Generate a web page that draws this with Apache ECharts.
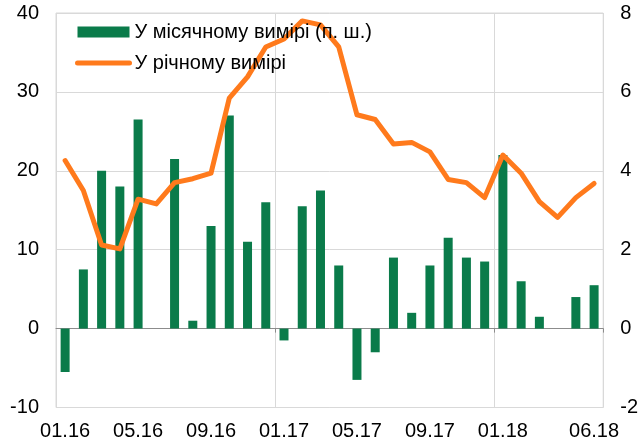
<!DOCTYPE html>
<html>
<head>
<meta charset="utf-8">
<script src="https://cdn.jsdelivr.net/npm/echarts@6/dist/echarts.min.js"></script>
<style>
html,body{margin:0;padding:0;background:#fff;}
#chart{width:641px;height:445px;}
</style>
</head>
<body>
<div id="chart"></div>
<script>
const categories = ['01.16','02.16','03.16','04.16','05.16','06.16','07.16','08.16','09.16','10.16','11.16','12.16',
  '01.17','02.17','03.17','04.17','05.17','06.17','07.17','08.17','09.17','10.17','11.17','12.17',
  '01.18','02.18','03.18','04.18','05.18','06.18'];
const labelIndices = [0,4,8,12,16,20,24,29];
const monthly = [-1.1,1.5,4.0,3.6,5.3,0,4.3,0.2,2.6,5.4,2.2,3.2,
  -0.3,3.1,3.5,1.6,-1.3,-0.6,1.8,0.4,1.6,2.3,1.8,1.7,
  4.4,1.2,0.3,0,0.8,1.1];
const annual = [21.3,17.5,10.6,10.1,16.4,15.8,18.5,19.0,19.7,29.2,31.9,35.7,
  36.7,39.0,38.5,35.7,27.1,26.5,23.4,23.6,22.4,18.9,18.5,16.6,
  22.0,19.7,16.1,14.1,16.6,18.4];
const leftTicks = {min:-10,max:40,interval:10};
const rightTicks = {min:-2,max:8,interval:2};
const seriesNames = ['У місячному вимірі (п. ш.)','У річному вимірі'];

const GREEN = '#0a7b4a', ORANGE = '#ff7a1c';
const FONT = 'Liberation Sans, Arial, sans-serif';
const FS = 20;
const chart = echarts.init(document.getElementById('chart'), null, {renderer:'canvas'});
chart.setOption({
  animation:false,
  textStyle:{fontFamily:FONT},
  grid:{left:56,right:34,top:13,bottom:37.5,show:true,borderColor:'#d9d9d9',borderWidth:1},
  legend:{
    orient:'vertical', left:75, top:22, padding:0, itemWidth:52, itemHeight:11, itemGap:11,
    textStyle:{fontSize:FS,color:'#000',fontFamily:FONT},
    data:[{name:seriesNames[0],icon:'rect'},
          {name:seriesNames[1],itemStyle:{opacity:0},lineStyle:{width:5,cap:'round',color:ORANGE}}]
  },
  xAxis:[{
    type:'category', data:categories, boundaryGap:true,
    axisLine:{show:false,onZero:false}, axisTick:{show:false},
    axisLabel:{fontSize:FS,color:'#000',margin:14,interval:(i)=>labelIndices.includes(i)},
    splitLine:{show:true,interval:(i)=>i%12===0,lineStyle:{color:'#d9d9d9',width:1}}
  },{
    type:'category', data:categories, boundaryGap:true, position:'bottom',
    axisLine:{show:true,onZero:true,onZeroAxisIndex:0,lineStyle:{color:'#8c8c8c',width:1}},
    axisTick:{show:true,inside:false,length:4,interval:(i)=>i%12===0 && i>0,lineStyle:{color:'#8c8c8c'}},
    axisLabel:{show:false}, splitLine:{show:false}
  }],
  yAxis:[{
    type:'value', min:leftTicks.min, max:leftTicks.max, interval:leftTicks.interval,
    axisLine:{show:false}, axisTick:{show:false},
    axisLabel:{fontSize:FS,color:'#000',margin:17},
    splitLine:{show:true,lineStyle:{color:'#d9d9d9',width:1}}
  },{
    type:'value', min:rightTicks.min, max:rightTicks.max, interval:rightTicks.interval,
    axisLine:{show:false}, axisTick:{show:false},
    axisLabel:{fontSize:FS,color:'#000',margin:17},
    splitLine:{show:false}
  }],
  series:[{
    name:seriesNames[0], type:'bar', xAxisIndex:0, yAxisIndex:1, data:monthly,
    barWidth:9, itemStyle:{color:GREEN}
  },{
    name:seriesNames[1], type:'line', xAxisIndex:0, yAxisIndex:0, data:annual,
    symbol:'none', lineStyle:{color:ORANGE,width:5,cap:'round',join:'round'}, itemStyle:{color:ORANGE}
  }]
});
</script>
</body>
</html>
